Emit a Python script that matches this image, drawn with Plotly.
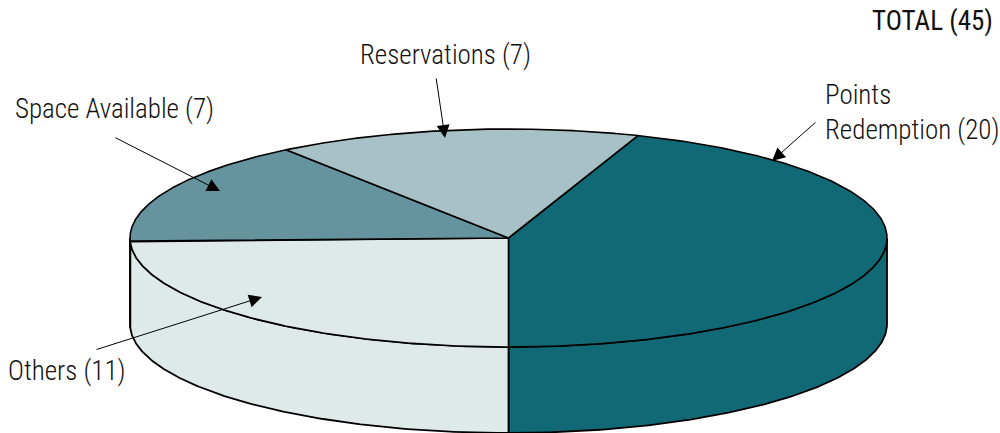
import numpy as np
import plotly.graph_objects as go

categories = ["Points<br>Redemption", "Others", "Space Available", "Reservations"]
values = [20, 11, 7, 7]
colors = ["#116975", "#dee9ea", "#65949f", "#a8c1c6"]

W, H = 1000, 433
CX, CY, RX, RY, DEPTH = 508.5, 238, 378.5, 109, 86
START = 20.0
FONT = "Roboto Condensed, Roboto, sans-serif"
FS = 27


def pt(deg, dy=0.0):
    t = np.radians(deg)
    return CX + RX * np.sin(t), CY - RY * np.cos(t) + dy


fig = go.Figure()
total = sum(values)
angles = [START]
for v in values:
    angles.append(angles[-1] + v / total * 360)

# side walls: only the front half of the disc is visible
for i, c in enumerate(colors):
    a0, a1 = max(angles[i], 90), min(angles[i + 1], 270)
    if a1 <= a0:
        continue
    th = np.linspace(a0, a1, 200)
    xt, yt = pt(th)
    xb, yb = pt(th, DEPTH)
    fig.add_trace(go.Scatter(
        x=np.r_[xt, xb[::-1], xt[0]], y=np.r_[yt, yb[::-1], yt[0]],
        mode="lines", fill="toself", fillcolor=c,
        line=dict(color="black", width=1.8), hoverinfo="skip", showlegend=False))

# top faces
for i, c in enumerate(colors):
    th = np.linspace(angles[i], angles[i + 1], 300)
    x, y = pt(th)
    fig.add_trace(go.Scatter(
        x=np.r_[CX, x, CX], y=np.r_[CY, y, CY],
        mode="lines", fill="toself", fillcolor=c,
        line=dict(color="black", width=1.6), hoverinfo="skip", showlegend=False))

labels = [f"{c} ({v})" for c, v in zip(categories, values)]
label_pos = [(823, 112), (6, 371), (13, 109), (358, 55)]
arrows = [((817, 121), (772, 161)), ((95, 350), (262, 297)),
          ((114, 137), (220, 191)), ((436, 77), (445, 138))]

anns = []
for text, (lx, ly), ((tx, ty), (hx, hy)) in zip(labels, label_pos, arrows):
    anns.append(dict(x=lx, y=ly, xref="x", yref="y", text=text, showarrow=False,
                     xanchor="left", yanchor="middle", align="left",
                     font=dict(family=FONT, size=FS, color="#111", weight=300)))
    anns.append(dict(x=hx, y=hy, ax=tx, ay=ty, xref="x", yref="y", axref="x", ayref="y",
                     text="", showarrow=True, arrowhead=2, arrowsize=2.6, arrowwidth=1.0,
                     arrowcolor="black"))
anns.append(dict(x=995, y=21, xref="x", yref="y", text=f"TOTAL ({total})", showarrow=False,
                 xanchor="right", yanchor="middle",
                 font=dict(family=FONT, size=FS, color="#111")))

fig.update_layout(
    width=W, height=H, margin=dict(l=0, r=0, t=0, b=0), autosize=False,
    paper_bgcolor="white", plot_bgcolor="white", showlegend=False,
    xaxis=dict(range=[0, W], visible=False, fixedrange=True),
    yaxis=dict(range=[H, 0], visible=False, fixedrange=True),
    annotations=anns)
fig.write_html("out.html", config=dict(displayModeBar=False),
               post_script="document.body.style.margin='0';")
